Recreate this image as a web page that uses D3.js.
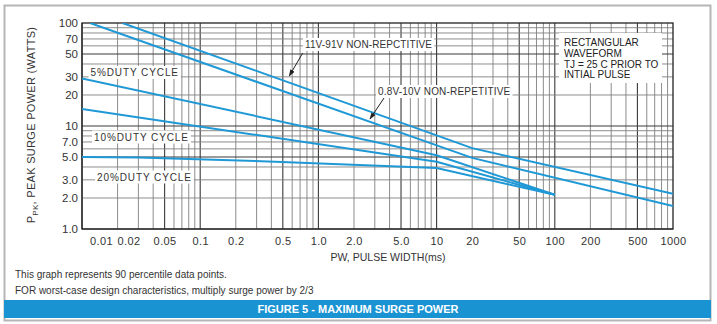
<!DOCTYPE html>
<html><head><meta charset="utf-8">
<script src="https://cdn.jsdelivr.net/npm/d3@7"></script>
<style>
body{margin:0;background:#fff;}
svg{display:block;font-family:"Liberation Sans",Arial,Helvetica,sans-serif;}
</style></head><body>
<svg id="c" width="717" height="324"></svg>
<script>
// ---- data ----
const xTicks = [0.01,0.02,0.05,0.1,0.2,0.5,1,2,5,10,20,50,100,200,500,1000];
const xTickLabels = ["0.01","0.02","0.05","0.1","0.2","0.5","1.0","2.0","5.0","10","20","50","100","200","500","1000"];
const yTicks = [1,2,3,5,7,10,20,30,50,70,100];
const yTickLabels = ["1.0","2.0","3.0","5.0","7.0","10","20","30","50","70","100"];

const seriesNames = ["11V-91V NON-REPCTITIVE","0.8V-10V NON-REPETITIVE","5%DUTY CYCLE","10%DUTY CYCLE","20%DUTY CYCLE"];
const pw_11_91   = [0.022, 20, 1000];
const ppk_11_91  = [100, 6.1, 2.2];
const pw_08_10   = [0.0117, 20, 1000];
const ppk_08_10  = [100, 4.9, 1.67];
const pw_duty5   = [0.01, 10, 100];
const ppk_duty5  = [29, 5.2, 2.15];
const pw_duty10  = [0.01, 10, 100];
const ppk_duty10 = [14.6, 4.5, 2.15];
const pw_duty20  = [0.01, 0.03, 0.43, 10, 100];
const ppk_duty20 = [5.0, 4.95, 4.5, 3.9, 2.15];

const noteLines = ["RECTANGULAR","WAVEFORM","TJ = 25 C PRIOR TO","INTIAL PULSE"];
const footnotes = ["This graph represents 90 percentile data points.",
                   "FOR worst-case design characteristics, multiply surge power by 2/3"];
const figureTitle = "FIGURE 5 - MAXIMUM SURGE POWER";
const xTitle = "PW, PULSE WIDTH(ms)";

// ---- layout ----
const W = 717, H = 324;
const m = {left: 82, top: 23, right: 717-673, bottom: 324-229};
const pw = W - m.left - m.right, ph = H - m.top - m.bottom;
const blue = "#1f98d6";

const svg = d3.select("#c");
svg.append("rect").attr("width",W).attr("height",H).attr("fill","#fff");
svg.append("rect").attr("x",4.5).attr("y",5.5).attr("width",706).attr("height",315)
   .attr("fill","none").attr("stroke","#b5b5b5").attr("stroke-width",2);

const x = d3.scaleLog().domain([0.01,1000]).range([m.left, m.left+pw]);
const y = d3.scaleLog().domain([1,100]).range([m.top+ph, m.top]);

const g = svg.append("g");

// grid
const xGrid = [];
[0.01,0.1,1,10,100].forEach(d=>{for(let k=1;k<=9;k++) xGrid.push({v:d*k,major:k===1||k===5});});
const yGrid = [];
[1,10].forEach(d=>{for(let k=1;k<=9;k++) yGrid.push({v:d*k,major:k===1||k===5});});
g.selectAll("line.vg").data(xGrid).join("line")
  .attr("x1",d=>x(d.v)).attr("x2",d=>x(d.v)).attr("y1",m.top).attr("y2",m.top+ph)
  .attr("stroke",d=>d.major?"#3a3a3a":"#808080").attr("stroke-width",d=>d.major?1.1:0.9);
g.selectAll("line.hg").data(yGrid).join("line")
  .attr("y1",d=>y(d.v)).attr("y2",d=>y(d.v)).attr("x1",m.left).attr("x2",m.left+pw)
  .attr("stroke",d=>d.major?"#3a3a3a":"#808080").attr("stroke-width",d=>d.major?1.1:0.9);

g.append("rect").attr("x",m.left).attr("y",m.top).attr("width",pw).attr("height",ph)
  .attr("fill","none").attr("stroke","#222").attr("stroke-width",1.3);

// axes
const labelShift = {0.01: 19, 0.02: 11};
const xAxis = d3.axisBottom(x).tickValues(xTicks).tickSize(0).tickPadding(8)
  .tickFormat((d,i)=>xTickLabels[i]);
const xa = svg.append("g").attr("transform",`translate(0,${m.top+ph})`).call(xAxis);
xa.select(".domain").remove();
xa.selectAll("text").attr("font-size","11px").attr("fill","#333")
  .attr("font-family","Liberation Sans, Arial, sans-serif").attr("letter-spacing","0.4px")
  .attr("dx",d=>labelShift[d]||0);

const yAxis = d3.axisLeft(y).tickValues(yTicks).tickSize(0).tickPadding(4)
  .tickFormat((d,i)=>yTickLabels[i]);
const ya = svg.append("g").attr("transform",`translate(${m.left},0)`).call(yAxis);
ya.select(".domain").remove();
ya.selectAll("text").attr("font-size","11.5px").attr("fill","#333")
  .attr("font-family","Liberation Sans, Arial, sans-serif");

function boxedText(txt, tx, ty, size, ls){
  const t = svg.append("text").attr("x",tx).attr("y",ty).attr("font-size",size+"px")
    .attr("letter-spacing",ls+"px").attr("fill","#333").text(txt);
  const b = t.node().getBBox();
  svg.insert("rect", ()=>t.node()).attr("x",b.x-2).attr("y",b.y-1).attr("width",b.width+4).attr("height",b.height+2).attr("fill","#fff");
  return t;
}
const series = [
  [pw_11_91, ppk_11_91],[pw_08_10, ppk_08_10],[pw_duty5, ppk_duty5],[pw_duty10, ppk_duty10],[pw_duty20, ppk_duty20]
];
svg.append("clipPath").attr("id","clip").append("rect").attr("x",m.left).attr("y",m.top).attr("width",pw).attr("height",ph);

boxedText(seriesNames[2], 90.5, 76, 10, 0.9);
boxedText(seriesNames[3], 94, 140.5, 10, 0.9);
boxedText(seriesNames[4], 97, 180.5, 10, 0.9);
boxedText(seriesNames[0], 305, 48, 10, 0.1);
boxedText(seriesNames[1], 378, 95, 10, 0.2);
svg.append("rect").attr("x",559).attr("y",33).attr("width",103).attr("height",50).attr("fill","#fff");
svg.append("g").selectAll("text").data(noteLines).join("text")
  .attr("x",564).attr("y",(d,i)=>46+i*10.8).attr("font-size","10px").attr("fill","#222").text(d=>d);

const line = d3.line().x(d=>x(d[0])).y(d=>y(d[1]));
svg.append("g").attr("clip-path","url(#clip)").selectAll("path").data(series).join("path")
  .attr("d",s=>line(s[0].map((v,i)=>[v,s[1][i]])))
  .attr("fill","none").attr("stroke",blue).attr("stroke-width",2);

const defs = svg.append("defs");
defs.append("marker").attr("id","ah").attr("viewBox","0 0 10 10").attr("refX",9).attr("refY",5)
  .attr("markerWidth",7).attr("markerHeight",7).attr("orient","auto")
  .append("path").attr("d","M0,1.5 L10,5 L0,8.5 Z").attr("fill","#222");
const arrows = [[302.7,53,289.3,76],[384,98,370,119]];
svg.selectAll("line.arr").data(arrows).join("line")
  .attr("x1",d=>d[0]).attr("y1",d=>d[1]).attr("x2",d=>d[2]).attr("y2",d=>d[3])
  .attr("stroke","#222").attr("stroke-width",1).attr("marker-end","url(#ah)");

svg.append("text").attr("x",388).attr("y",261).attr("text-anchor","middle")
  .attr("font-size","10.5px").attr("fill","#333").text(xTitle);
const yt = svg.append("text").attr("transform","translate(35,125) rotate(-90)")
  .attr("text-anchor","middle").attr("font-size","11px").attr("fill","#333").attr("letter-spacing","0.3px");
yt.append("tspan").text("P");
yt.append("tspan").attr("font-size","8px").attr("dy",3).text("PK");
yt.append("tspan").attr("dy",-3).text(", PEAK SURGE POWER (WATTS)");

svg.selectAll("text.fn").data(footnotes).join("text")
  .attr("x",15).attr("y",(d,i)=>278+i*16).attr("font-size","10px").attr("fill","#333").text(d=>d);

svg.append("rect").attr("x",4).attr("y",300).attr("width",707).attr("height",18).attr("fill","#1a93d3");
svg.append("text").attr("x",358).attr("y",313).attr("text-anchor","middle")
  .attr("font-size","11px").attr("font-weight","bold").attr("fill","#fff").text(figureTitle);
</script>
</body></html>
